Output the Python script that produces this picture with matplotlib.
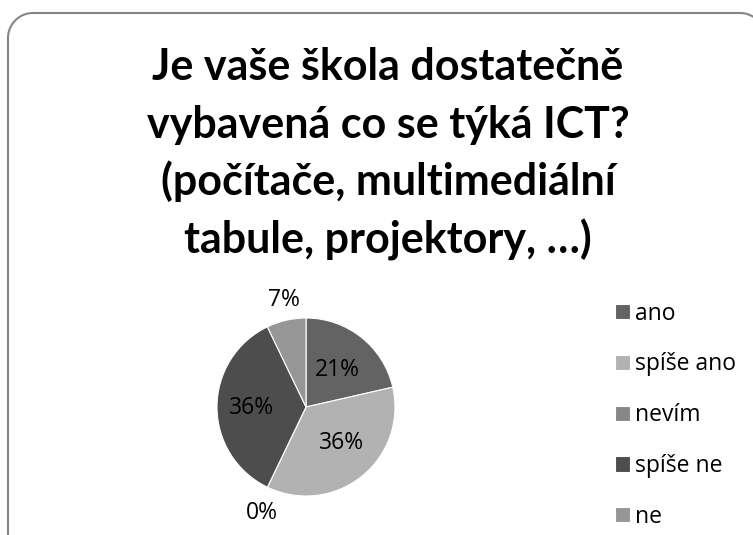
import matplotlib
matplotlib.use("Agg")
import matplotlib.pyplot as plt
import numpy as np
from matplotlib.patches import Rectangle
from matplotlib.lines import Line2D

plt.rcParams["savefig.pad_inches"] = 0

categories = ["ano", "spíše ano", "nevím", "spíše ne", "ne"]
counts = [3, 5, 0, 5, 1]
pct_labels = ["21%", "36%", "0%", "36%", "7%"]
colors = ["#636363", "#b2b2b2", "#878787", "#4d4d4d", "#969696"]
title_lines = ["Je vaše škola dostatečně",
               "vybavená co se týká ICT?",
               "(počítače, multimediální",
               "tabule, projektory, …)"]

W, H = 753, 535
DPI = 100
fig = plt.figure(figsize=(W / DPI, H / DPI), dpi=DPI)
fig.patch.set_facecolor("white")

# white background covering exactly the canvas
fig.patches.append(Rectangle((0, 0), 1, 1, transform=fig.transFigure,
                             facecolor="white", edgecolor="none", zorder=-10))

# visible part of the rounded frame (pixel coords, y down), kept inside canvas
rad = 25
a1 = np.linspace(np.pi, np.pi / 2, 20)
a2 = np.linspace(np.pi / 2, np.deg2rad(59), 12)
fx = np.concatenate([[8, 8], 8 + rad + rad * np.cos(a1), 740 + rad * np.cos(a2)])
fy = np.concatenate([[H, 13 + rad], 13 + rad - rad * np.sin(a1),
                     13 + rad - rad * np.sin(a2)])
fig.lines.append(Line2D(fx / W, 1 - fy / H, transform=fig.transFigure,
                        color="#868686", linewidth=1.5))

for i, line in enumerate(title_lines):
    fig.text(388 / W, 1 - (80 + i * 57.7) / H, line, ha="center",
             va="baseline", fontsize=31, fontweight="bold",
             family=["Lato", "DejaVu Sans"], color="black")

cx, cy, r = 306, 407, 89
ax = fig.add_axes([(cx - r) / W, (H - cy - r) / H, 2 * r / W, 2 * r / H])
wedges, _ = ax.pie(counts, colors=colors, startangle=90, counterclock=False,
                   radius=1, wedgeprops=dict(edgecolor="white", linewidth=0.8))
ax.set_xlim(-1, 1)
ax.set_ylim(-1, 1)
ax.set_aspect("equal")
ax.axis("off")

# label placement (distance factor, angle offset in degrees)
label_dist = [0.545, 0.57, 1.29, 0.61, 1.23]
label_off = [-1, 6, 3, 1, -1]
for w, lab, d, off in zip(wedges, pct_labels, label_dist, label_off):
    ang = np.deg2rad((w.theta1 + w.theta2) / 2 + off)
    ax.text(d * np.cos(ang), d * np.sin(ang), lab, ha="center", va="center",
            fontsize=16.5, family=["Open Sans", "DejaVu Sans"], color="black")

leg = fig.legend(wedges, categories, loc="upper left",
                 bbox_to_anchor=(594 / W, 1 - 281 / H), frameon=False,
                 prop=dict(family="Open Sans", size=16.5),
                 handlelength=0.65, handleheight=0.65, handletextpad=0.22,
                 labelspacing=1.17)

fig.savefig("out.png", dpi=DPI, facecolor="white")
